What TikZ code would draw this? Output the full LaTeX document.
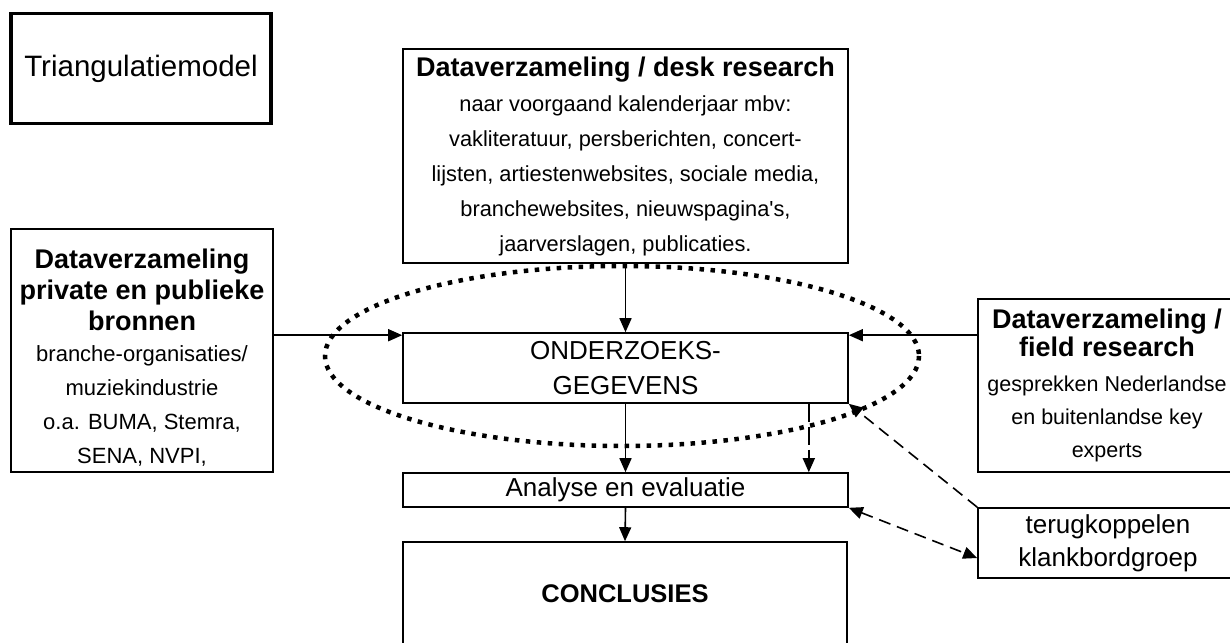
\documentclass[tikz,border=0pt]{standalone}
\usepackage{fontspec}
\setmainfont{Liberation Sans}
\usetikzlibrary{arrows.meta,positioning}
\newcommand\tmHead{\bfseries\fontsize{27}{35}\selectfont}

\begin{document}
\begin{tikzpicture}[x=1pt,y=-1pt,
    tmBox/.style={draw,line width=1.6pt,align=center,inner sep=2pt},
    tmArrow/.style={line width=1.6pt,->,>={Triangle[length=14pt,width=12pt]}},
    tmDash/.style={tmArrow,dash pattern=on 12pt off 7pt}]
    \useasboundingbox (0,0) rectangle (1230,642);
    \clip (0,0) rectangle (1230,642);
    \node[draw,line width=3.8pt,minimum width=260,minimum height=110,font=\fontsize{29.5}{35}\selectfont] (title) at (141,68.5) {Triangulatiemodel};
    \node[tmBox,minimum width=445,minimum height=214,font=\fontsize{21.8}{35}\selectfont] (desk) at (625.5,156)
      {\tmHead Dataverzameling / desk research\\ naar voorgaand kalenderjaar mbv:\\ vakliteratuur, persberichten, concert-\\ lijsten, artiestenwebsites, sociale media,\\ branchewebsites, nieuwspagina\textquotesingle s,\\ jaarverslagen, publicaties.};
    \node[tmBox,minimum width=262,minimum height=243,font=\fontsize{22}{34}\selectfont] (bronnen) at (142,350.5)
      {\tmHead\rule{0pt}{34pt}Dataverzameling\\[-3pt] \tmHead private en publieke\\[-3pt] \tmHead bronnen\\[-3pt] branche-organisaties/\\ muziekindustrie\\ o.a. BUMA, Stemra,\\ SENA, NVPI,};
    \node[tmBox,minimum width=258,minimum height=173,font=\fontsize{21.5}{33}\selectfont] (field) at (1107,385.5)
      {\tmHead Dataverzameling /\\[-5pt] \tmHead field research\\[2pt] gesprekken Nederlandse\\ en buitenlandse key\\ experts};
    \node[tmBox,minimum width=445,minimum height=70,font=\fontsize{26}{35}\selectfont] (gegevens) at (625.5,368) {ONDERZOEKS-\\ GEGEVENS};
    \node[tmBox,minimum width=445,minimum height=34,font=\fontsize{26}{30}\selectfont] (analyse) at (625.5,490) {Analyse en evaluatie};
    \node[tmBox,minimum width=444,minimum height=104,font=\bfseries\fontsize{25.5}{30}\selectfont] (concl) at (625,594) {CONCLUSIES};
    \node[tmBox,minimum width=260,minimum height=70,font=\fontsize{26}{33}\selectfont] (klank) at (1108,543) {terugkoppelen\\ klankbordgroep};
    \draw[line width=4.5pt,dash pattern=on 4.5pt off 6.5pt] (622,356) ellipse [x radius=297,y radius=90];
    \coordinate (inL) at ([yshift=-3pt]gegevens.north west);
    \coordinate (inR) at ([yshift=-3pt]gegevens.north east);
    \coordinate (dashTop) at ([xshift=-40pt]gegevens.south east);
    \coordinate (klankIn) at ([yshift=-15pt]klank.west);
    \draw[tmArrow] (desk.south) -- (gegevens.north);
    \draw[tmArrow] (bronnen.east |- inL) -- (inL);
    \draw[tmArrow] (field.west |- inR) -- (inR);
    \draw[tmArrow] (gegevens.south) -- (analyse.north);
    \draw[tmArrow,dash pattern=on 18pt off 5pt] (dashTop) -- (dashTop |- analyse.north);
    \draw[tmDash] (klank.north west) -- (gegevens.south east);
    \draw[tmDash,<->] (analyse.south east) -- (klankIn);
    \draw[tmArrow] (analyse.south) -- (concl.north);
  \end{tikzpicture}
\end{document}
